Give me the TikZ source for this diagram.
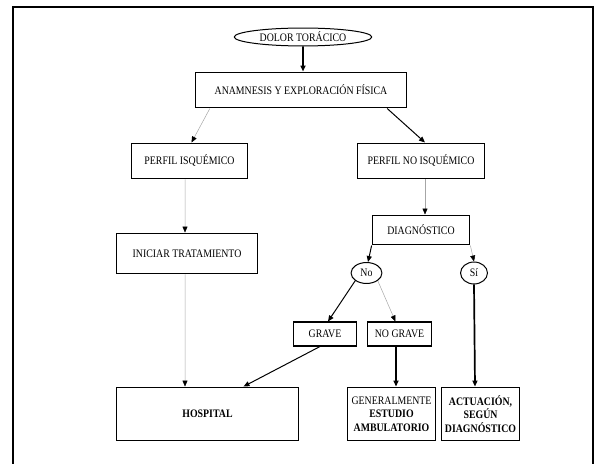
\documentclass[tikz,border=0pt]{standalone}
\usepackage{fontspec}
\setmainfont[FakeStretch=0.86]{Liberation Serif}
\usetikzlibrary{arrows.meta,shapes.geometric}

\begin{document}
\begin{tikzpicture}
	[x=1bp,y=-1bp,font=\fontsize{11.5}{13.5}\selectfont,]
	\tikzstyle{box}=[rectangle, draw, line width=1.1bp, inner sep=0pt, align=center];
	\tikzstyle{oval}=[ellipse, draw, line width=1bp, inner sep=0pt];
	\tikzstyle{tip}=[-{Triangle[black,length=6bp,width=5bp]}];
	\tikzstyle{faint}=[tip, draw=gray!70, line width=0.5bp];
	\tikzstyle{plain}=[tip, draw=black, line width=1bp];
	\tikzstyle{heavy}=[tip, draw=black, line width=1.7bp];

	\useasboundingbox (0,0) rectangle (599,464);
	\begin{scope}
		\clip (0,0) rectangle (599,464);
		\draw[line width=1.2bp] (13,470) -- (13,7) -- (593,7) -- (593,470);
	\end{scope}

	\node[oval, minimum width=138, minimum height=18] (dolor) at (303,37) {DOLOR TORÁCICO};
	\node[box, minimum width=212, minimum height=36] (anam) at (301,90) {ANAMNESIS Y EXPLORACIÓN FÍSICA};
	\node[box, minimum width=117, minimum height=36] (isq) at (189.5,161) {PERFIL ISQUÉMICO};
	\node[box, minimum width=128, minimum height=36] (noisq) at (421,161) {PERFIL NO ISQUÉMICO};
	\node[box, minimum width=142, minimum height=41] (iniciar) at (187,253.5) {INICIAR TRATAMIENTO};
	\node[box, minimum width=98, minimum height=30] (diag) at (421,230) {DIAGNÓSTICO};
	\node[oval, minimum width=31, minimum height=21] (no) at (366.5,273) {No};
	\node[oval, minimum width=27, minimum height=22] (si) at (474,273) {Sí};
	\node[box, minimum width=64, minimum height=24] (grave) at (325,334) {GRAVE};
	\node[box, minimum width=65, minimum height=24] (nograve) at (399.5,334) {NO GRAVE};
	\node[box, minimum width=183, minimum height=54] (hospital) at (207.5,414) {\textbf{HOSPITAL}};
	\node[box, minimum width=89, minimum height=54] (general) at (391.5,414)
		{GENERALMENTE\\\textbf{ESTUDIO}\\\textbf{AMBULATORIO}};
	\node[box, minimum width=79, minimum height=54] (actuacion) at (480.5,414)
		{\textbf{ACTUACIÓN,}\\\textbf{SEGÚN}\\\textbf{DIAGNÓSTICO}};

	\draw[heavy] (dolor.south) -- ([xshift=2bp]anam.north);
	\draw[faint] ([xshift=15bp]anam.south west) -- ([xshift=2bp]isq.north);
	\draw[plain] ([xshift=-20bp]anam.south east) -- ([xshift=4bp]noisq.north);
	\draw[faint] ([xshift=-4.5bp]isq.south) -- ([xshift=-2bp]iniciar.north);
	\draw[faint] ([xshift=4bp]noisq.south) -- ([xshift=4bp]diag.north);
	\draw[plain] (diag.south west) -- ([xshift=1.5bp]no.north);
	\draw[faint] (diag.south east) -- (si.north);
	\draw[plain] (no.south west) -- ([xshift=3bp]grave.north);
	\draw[faint] (no.south east) -- ([xshift=-4bp]nograve.north);
	\draw[plain] ([xshift=-5bp]grave.south) -- ([xshift=36bp]hospital.north);
	\draw[faint] ([xshift=-2bp]iniciar.south) -- ([xshift=-22.5bp]hospital.north);
	\draw[heavy] ([xshift=-3.5bp]nograve.south) -- ([xshift=4.5bp]general.north);
	\draw[heavy] (si.south) -- ([xshift=-5.5bp]actuacion.north);

\end{tikzpicture}
\end{document}
